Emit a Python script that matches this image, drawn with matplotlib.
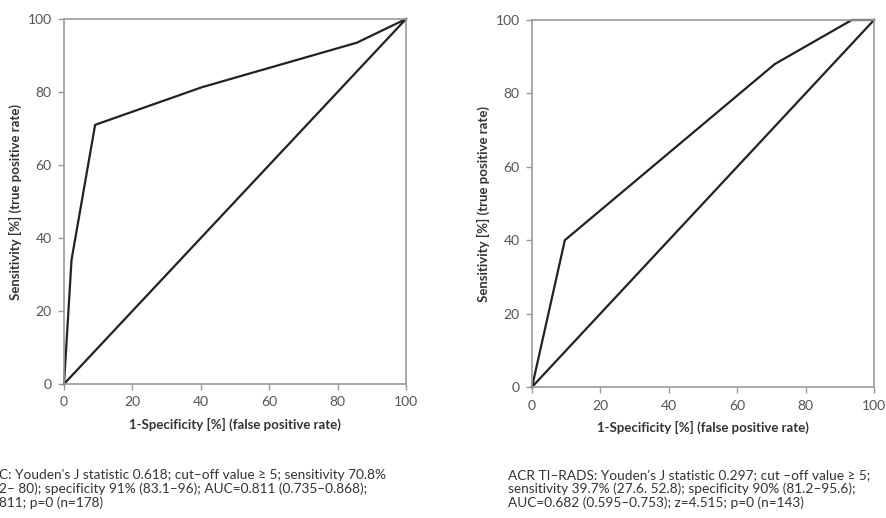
import matplotlib
matplotlib.use("Agg")
import matplotlib.pyplot as plt

plt.rcParams['font.family'] = ['Lato', 'DejaVu Sans']

# courbe ROC gauche
fpr_gauche = [0, 2.2, 9.1, 40.3, 85.6, 100]
tpr_gauche = [0, 34.0, 71.0, 81.3, 93.5, 100]

# courbe ROC droite (ACR TI-RADS)
fpr_droite = [0, 9.6, 71.0, 93.5, 100]
tpr_droite = [0, 40.0, 88.0, 100, 100]

diagonale = [0, 100]
graduations = [0, 20, 40, 60, 80, 100]

texte_gauche = ("C: Youden's J statistic 0.618; cut\u2013off value \u2265 5; sensitivity 70.8%\n"
                "2\u2013 80); specificity 91% (83.1\u201396); AUC=0.811 (0.735\u20130.868);\n"
                "811; p=0 (n=178)")
texte_droite = ("ACR TI\u2013RADS: Youden's J statistic 0.297; cut \u2013off value \u2265 5;\n"
                "sensitivity 39.7% (27.6. 52.8); specificity 90% (81.2\u201395.6);\n"
                "AUC=0.682 (0.595\u20130.753); z=4.515; p=0 (n=143)")

GRIS = "#9a9a9a"

fig = plt.figure(figsize=(8.87, 5.18), dpi=100)
ax1 = fig.add_axes([64 / 887, 1 - 384 / 518, 342 / 887, 365 / 518])
ax2 = fig.add_axes([532 / 887, 1 - 387 / 518, 342 / 887, 367 / 518])


def dessiner(ax, fpr, tpr):
    ax.plot(diagonale, diagonale, color="#222222", lw=1.6, clip_on=False)
    ax.plot(fpr, tpr, color="#222222", lw=1.6, clip_on=False)
    ax.set_xlim(0, 100)
    ax.set_ylim(0, 100)
    ax.set_xticks(graduations)
    ax.set_yticks(graduations)
    for s in ax.spines.values():
        s.set_color(GRIS)
        s.set_linewidth(1.2)
    ax.tick_params(direction="out", length=4, width=1.0, color=GRIS,
                   labelsize=10, labelcolor="#555555", pad=5)
    ax.set_xlabel("1-Specificity [%] (false positive rate)", fontsize=9.5,
                  fontweight="bold", color="#333333", labelpad=7)
    ax.set_ylabel("Sensitivity [%] (true positive rate)", fontsize=9.5,
                  fontweight="bold", color="#333333", labelpad=4)


dessiner(ax1, fpr_gauche, tpr_gauche)
dessiner(ax2, fpr_droite, tpr_droite)

fig.text(-1 / 887, 1 - 469 / 518, texte_gauche, fontsize=9.8, color="#333333",
         va="top", ha="left", linespacing=1.15)
fig.text(508 / 887, 1 - 469 / 518, texte_droite, fontsize=9.8, color="#333333",
         va="top", ha="left", linespacing=1.15)

fig.savefig("out.png", dpi=100)
